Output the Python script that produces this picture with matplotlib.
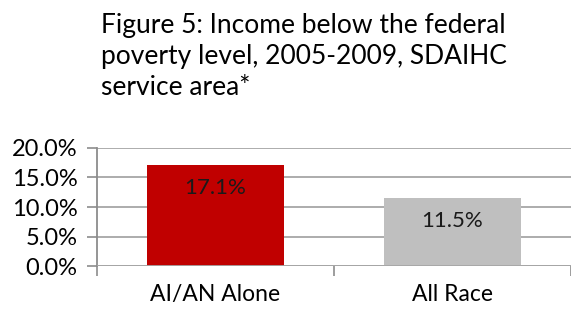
import matplotlib
matplotlib.use('Agg')
import matplotlib.pyplot as plt

categories = ['AI/AN Alone', 'All Race']
values = [17.1, 11.5]
bar_colors = ['#C00000', '#BFBFBF']
yticks = [0, 5, 10, 15, 20]
title = 'Figure 5: Income below the federal\npoverty level, 2005-2009, SDAIHC\nservice area*'

plt.rcParams['font.family'] = ['Lato', 'DejaVu Sans']

fig = plt.figure(figsize=(5.71, 3.12), dpi=100)
ax = fig.add_axes([0.170, 0.147, 0.830, 0.379])

x = list(range(len(categories)))
bars = ax.bar(x, values, width=0.58, color=bar_colors, zorder=3)

for xi, v in zip(x, values):
    ax.text(xi, v - 2.2, '%.1f%%' % v, ha='center', va='top', fontsize=16, color='#1a1a1a', zorder=4)

ax.set_xlim(-0.5, 1.5)
ax.set_ylim(0, 20)
ax.set_yticks(yticks)
ax.set_yticklabels(['%.1f%%' % t for t in yticks], fontsize=17)
ax.set_xticks([-0.5, 0.5, 1.5])
ax.set_xticklabels([])
ax.set_xticks(x, minor=True)
ax.set_xticklabels(categories, minor=True, fontsize=16.5)
ax.tick_params(axis='x', which='minor', length=0, pad=13)
ax.tick_params(axis='x', which='major', length=7, color='#8c8c8c', width=1.2)
ax.tick_params(axis='y', length=7, color='#8c8c8c', width=1.2, pad=7)

ax.grid(axis='y', color='#a6a6a6', linewidth=1.3, zorder=0)
for s in ['top', 'right', 'bottom']:
    ax.spines[s].set_visible(False)
ax.spines['left'].set_color('#8c8c8c')
ax.spines['left'].set_linewidth(1.3)
ax.axhline(0, color='#a6a6a6', linewidth=1.3, zorder=5)

fig.text(0.177, 0.958, title, ha='left', va='top', fontsize=19, linespacing=1.3)

fig.savefig('out.png', dpi=100)
